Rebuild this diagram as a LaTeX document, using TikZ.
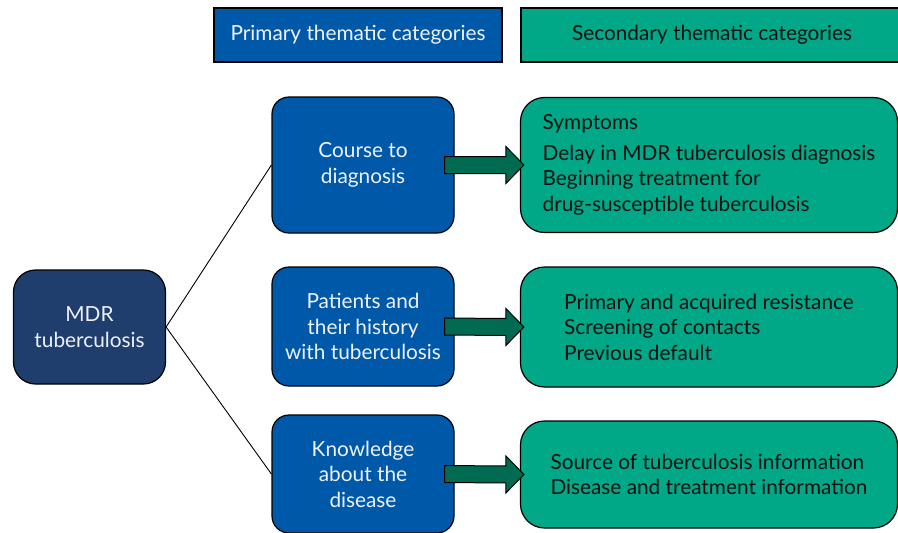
\documentclass[tikz,border=0pt]{standalone}
\usepackage{fontspec}
\setmainfont{Lato}
\usetikzlibrary{calc}
\definecolor{primblue}{HTML}{0059A8}
\definecolor{navy}{HTML}{1F3D6D}
\definecolor{teal}{HTML}{00A887}
\definecolor{arrgreen}{HTML}{006B50}
\definecolor{lighttext}{HTML}{EEF2F8}
\definecolor{darktext}{HTML}{111111}
\tikzset{
  base/.style={draw=black, line width=1.2pt, inner sep=0pt, font=\fontsize{20.8}{25.5}\selectfont},
  header/.style={base, rectangle, minimum height=54pt},
  primbox/.style={base, rounded corners=17pt, fill=primblue, text=lighttext, align=center, minimum width=182pt},
  secbox/.style={base, rounded corners=24pt, fill=teal, text=darktext, align=left, minimum width=377pt},
  rootbox/.style={base, rounded corners=22pt, fill=navy, text=lighttext, align=center, minimum width=152pt, minimum height=114pt},
  link/.style={draw=black, line width=0.9pt},
  arr/.style={draw=black, line width=1pt, fill=arrgreen}
}
\newcommand{\blockarrow}[2]{%
  \draw[arr] ($(#1.east)+(-10,8.5)$) -- ($(#2.west)+(-14,8.5)$) -- ($(#2.west)+(-14,18.5)$)
    -- ($(#2.west)+(4,0)$) -- ($(#2.west)+(-14,-18.5)$) -- ($(#2.west)+(-14,-8.5)$)
    -- ($(#1.east)+(-10,-8.5)$) -- cycle;}
\begin{document}
\begin{tikzpicture}[x=1pt,y=-1pt]
\useasboundingbox (0,0) rectangle (898,533);
\node[header, fill=primblue, text=lighttext, minimum width=288pt] (h1) at (358,35) {Primary thematic categories};
\node[header, fill=teal, text=darktext, minimum width=382pt] (h2) at (712,35) {Secondary thematic categories};

\node[rootbox] (root) at (89.5,327) {MDR\\tuberculosis};

\node[primbox, minimum height=136pt] (p1) at (363,165) {Course to\\diagnosis};
\node[primbox, minimum height=119pt] (p2) at (363,326.5) {Patients and\\their history\\with tuberculosis};
\node[primbox, minimum height=118pt] (p3) at (363,474) {Knowledge\\about the\\disease};

\node[secbox, minimum height=135pt] (s1) at (709,165) {Symptoms\\[5pt]Delay in MDR tuberculosis diagnosis\\Beginning treatment for\\drug-susceptible tuberculosis};
\node[secbox, minimum height=120pt] (s2) at (709,327) {Primary and acquired resistance\\Screening of contacts\\Previous default};
\node[secbox, minimum height=107pt] (s3) at (709,474.5) {Source of tuberculosis information\\Disease and treatment information};

\draw[link] (root.east) -- (p1.west);
\draw[link] (root.east) -- (p3.west);

\blockarrow{p1}{s1}
\blockarrow{p2}{s2}
\blockarrow{p3}{s3}
\end{tikzpicture}
\end{document}
